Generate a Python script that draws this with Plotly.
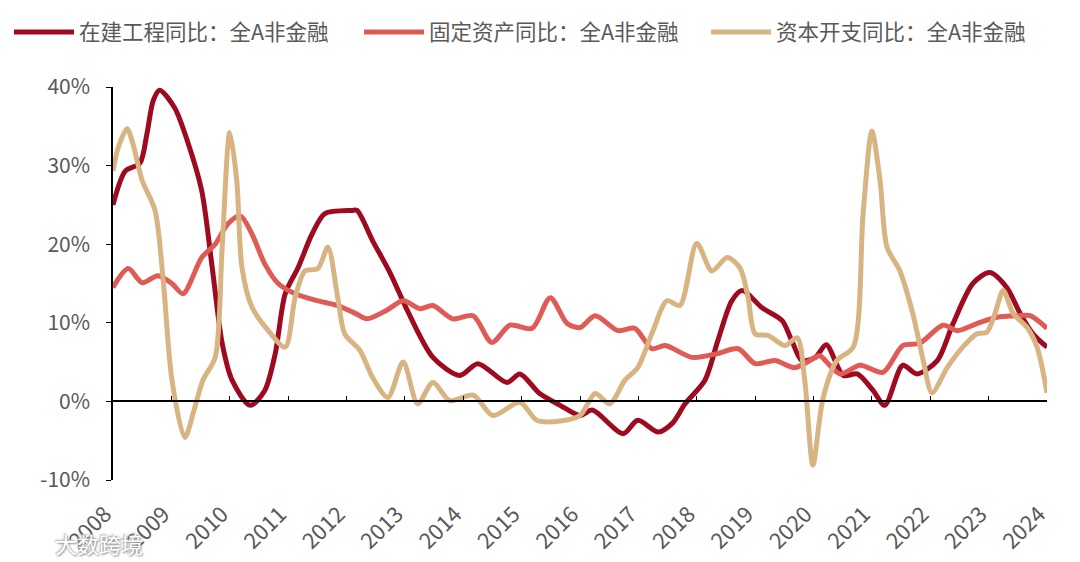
import plotly.graph_objects as go

# ---- data (decimal year, % yoy) ----
names = ["在建工程同比：全A非金融", "固定资产同比：全A非金融", "资本开支同比：全A非金融"]
colors = ["#9E0A20", "#E05A56", "#D9B483"]

cip_x = [2008.00, 2008.21, 2008.46, 2008.58, 2008.69, 2008.80, 2009.06, 2009.28, 2009.52, 2009.70, 2009.87,
         2010.04, 2010.35, 2010.60, 2010.78, 2010.95, 2011.17, 2011.41, 2011.63, 2012.09, 2012.18,
         2012.45, 2012.75, 2013.04, 2013.48, 2013.94, 2014.25, 2014.75, 2014.97, 2015.31, 2015.66,
         2016.00, 2016.21, 2016.74, 2016.99, 2017.34, 2017.58, 2017.80, 2018.14, 2018.36, 2018.60,
         2018.78, 2019.12, 2019.46, 2019.63, 2019.80, 2020.03, 2020.22, 2020.51, 2020.75, 2021.02,
         2021.22, 2021.53, 2021.77, 2022.12, 2022.39, 2022.73, 2023.02, 2023.31, 2023.54, 2023.76,
         2024.00]
cip_y = [25.0, 29.3, 30.3, 34.0, 38.3, 39.6, 37.3, 33.0, 26.8, 17.0, 7.4,
         2.7, -0.5, 1.4, 6.1, 13.7, 17.0, 21.3, 23.9, 24.3, 24.3,
         20.4, 16.3, 11.6, 5.6, 3.3, 4.8, 2.4, 3.5, 1.0, -0.5,
         -1.8, -1.1, -4.1, -2.4, -3.9, -2.8, -0.3, 2.7, 7.7, 12.8,
         14.1, 11.9, 10.3, 7.7, 5.2, 5.6, 7.2, 3.3, 3.5, 1.4,
         -0.5, 4.6, 3.5, 5.2, 9.9, 15.0, 16.4, 14.5, 11.2, 8.6,
         6.9]

fa_x = [2008.00, 2008.26, 2008.50, 2008.77, 2009.01, 2009.20, 2009.52, 2009.75, 2009.97, 2010.18,
        2010.38, 2010.60, 2010.83, 2011.12, 2011.51, 2011.85, 2012.15, 2012.35, 2012.69, 2012.97,
        2013.26, 2013.48, 2013.82, 2014.17, 2014.49, 2014.80, 2015.18, 2015.49, 2015.78, 2016.00,
        2016.26, 2016.65, 2016.94, 2017.23, 2017.46, 2017.92, 2018.36, 2018.71, 2019.00, 2019.34,
        2019.68, 2020.03, 2020.11, 2020.45, 2020.80, 2021.19, 2021.53, 2021.82, 2022.22, 2022.46,
        2022.80, 2023.14, 2023.49, 2023.71, 2024.00]
fa_y = [14.5, 16.9, 15.1, 16.0, 15.0, 13.7, 18.3, 20.0, 22.6, 23.6,
        21.3, 17.5, 15.0, 13.7, 12.8, 12.2, 11.2, 10.5, 11.6, 12.8,
        11.8, 12.2, 10.5, 10.9, 7.5, 9.7, 9.3, 13.2, 9.9, 9.4,
        10.9, 9.0, 9.3, 6.7, 7.1, 5.6, 6.1, 6.7, 4.8, 5.2,
        4.3, 5.6, 5.8, 3.5, 4.6, 3.7, 7.1, 7.4, 9.7, 9.0,
        9.9, 10.7, 10.9, 10.9, 9.3]

capex_x = [2008.00, 2008.09, 2008.24, 2008.34, 2008.50, 2008.72, 2008.86, 2009.01, 2009.23, 2009.40,
           2009.54, 2009.75, 2009.87, 2010.00, 2010.12, 2010.21, 2010.38, 2010.66, 2010.95, 2011.12,
           2011.29, 2011.51, 2011.68, 2011.85, 2011.97, 2012.23, 2012.45, 2012.71, 2012.97, 2013.22,
           2013.48, 2013.77, 2014.17, 2014.51, 2014.97, 2015.26, 2015.66, 2016.00, 2016.26, 2016.51,
           2016.77, 2016.99, 2017.23, 2017.49, 2017.71, 2018.00, 2018.26, 2018.52, 2018.74, 2018.88,
           2019.00, 2019.22, 2019.51, 2019.72, 2019.85, 2019.99, 2020.16, 2020.40, 2020.68, 2020.85,
           2021.00, 2021.14, 2021.26, 2021.48, 2021.70, 2021.88, 2022.03, 2022.29, 2022.51, 2022.80,
           2022.97, 2023.11, 2023.25, 2023.42, 2023.66, 2023.83, 2024.00]
capex_y = [29.3, 32.3, 34.7, 32.8, 28.1, 24.3, 15.4, 2.7, -4.6, -0.8,
           2.7, 5.6, 19.6, 34.2, 28.1, 17.0, 12.0, 9.0, 6.9, 13.2,
           16.6, 16.9, 19.6, 13.2, 8.6, 6.5, 3.0, 0.5, 5.0, -0.3,
           2.4, 0.1, 0.8, -1.8, -0.1, -2.4, -2.5, -1.8, 1.0, -0.3,
           2.7, 4.3, 8.6, 12.8, 12.2, 20.1, 16.6, 18.3, 17.0, 13.2,
           8.6, 8.4, 7.1, 8.1, 2.7, -8.1, 0.3, 5.2, 6.9, 23.9,
           34.4, 28.1, 19.6, 16.6, 11.2, 5.2, 1.1, 4.3, 6.5, 8.6,
           8.8, 11.2, 14.1, 11.2, 9.4, 6.9, 1.1]

years = list(range(2008, 2025))
yticks = [-10, 0, 10, 20, 30, 40]

FONT = "Noto Sans CJK SC"
GRAY = "#595959"
W, H = 1080, 562

fig = go.Figure()
series = [(cip_x, cip_y), (fa_x, fa_y), (capex_x, capex_y)]
legend_ids = ["legend", "legend2", "legend3"]
for i, (xs, ys) in enumerate(series):
    fig.add_trace(go.Scatter(x=xs, y=ys, mode="lines", name=names[i], legend=legend_ids[i],
                             line=dict(color=colors[i], width=5, shape="spline", smoothing=0.8)))

# helper trace so the zero-line axis (ticks at y=0) renders
fig.add_trace(go.Scatter(x=[years[0], years[-1]], y=[None, None], xaxis="x2",
                         mode="lines", showlegend=False, hoverinfo="skip"))

leg_common = dict(orientation="h", xref="container", yref="container",
                  xanchor="left", yanchor="middle", itemwidth=60,
                  font=dict(size=21.5, color=GRAY, family=FONT),
                  bgcolor="rgba(0,0,0,0)")
leg_px = [9, 359, 706]
legs = {}
for lid, px in zip(legend_ids, leg_px):
    legs[lid] = dict(leg_common, x=px / W, y=1 - 32 / H)

fig.update_layout(
    width=W, height=H,
    margin=dict(l=113, r=33, t=87, b=82, autoexpand=False),
    paper_bgcolor="white", plot_bgcolor="white",
    font=dict(family=FONT, color=GRAY),
    showlegend=True,
    xaxis=dict(range=[years[0], years[-1]], tickmode="array", tickvals=years,
               ticktext=[str(y) for y in years], tickangle=-45, ticks="",
               ticklabelstandoff=16, ticklabelshift=-8,
               showline=False, showgrid=False, zeroline=False, automargin=False,
               tickfont=dict(size=22, color=GRAY, family=FONT)),
    xaxis2=dict(range=[years[0], years[-1]], overlaying="x", anchor="free", position=0.2,
                tickmode="array", tickvals=years, ticks="inside", ticklen=5,
                tickcolor="black", tickwidth=1.3, showticklabels=False, automargin=False,
                showline=True, linecolor="black", linewidth=1.5, showgrid=False, zeroline=False),
    yaxis=dict(range=[yticks[0], yticks[-1]], tickmode="array", tickvals=yticks,
               ticktext=[f"{v}%" for v in yticks], ticks="outside", ticklen=5,
               tickcolor="black", tickwidth=1.3, automargin=False, ticklabelstandoff=12,
               showline=True, linecolor="black", linewidth=1.5,
               showgrid=False, zeroline=False,
               tickfont=dict(size=21, color=GRAY, family=FONT)),
    **legs,
)

fig.add_annotation(text="大数跨境", xref="paper", yref="paper",
                   x=(53 - 113) / (W - 113 - 33), y=-(543 - 480) / (H - 87 - 82),
                   xanchor="left", yanchor="middle", showarrow=False,
                   font=dict(size=22, color="white", family=FONT,
                             shadow="1px 1px 2px #888, -1px -1px 2px #aaa"))

fig.write_html("out.html", config={"displayModeBar": False})

# remove default page margin so the figure sits at the window's top-left corner
with open("out.html", "r", encoding="utf-8") as f:
    html = f.read()
html = html.replace("<head>", "<head><style>html,body{margin:0;padding:0;}</style>", 1)
with open("out.html", "w", encoding="utf-8") as f:
    f.write(html)
